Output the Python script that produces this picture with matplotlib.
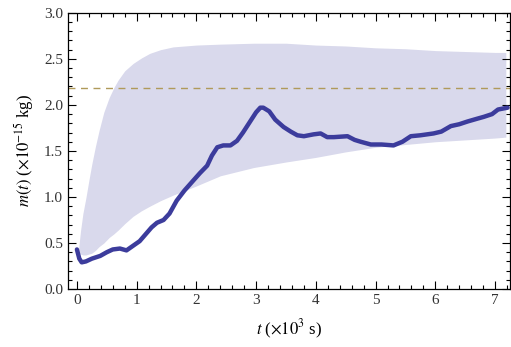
import numpy as np
import matplotlib
matplotlib.use("Agg")
import matplotlib.pyplot as plt
from matplotlib.ticker import MultipleLocator

plt.rcParams['font.family'] = ['Liberation Serif', 'DejaVu Serif']
plt.rcParams['mathtext.fontset'] = 'stix'

# measured mass curve (t in 10^3 s, m in 10^-15 kg)
t_meas = [0.0, 0.04, 0.08, 0.15, 0.25, 0.39, 0.5, 0.6, 0.72, 0.83, 0.94, 1.05,
          1.17, 1.25, 1.34, 1.45, 1.55, 1.67, 1.8, 1.95, 2.06, 2.18, 2.26,
          2.35, 2.45, 2.57, 2.68, 2.78, 2.9, 3.0, 3.07, 3.12, 3.22,
          3.32, 3.46, 3.58, 3.69, 3.8, 3.96, 4.08, 4.19, 4.3, 4.53, 4.65,
          4.75, 4.92, 5.1, 5.3, 5.45, 5.59, 5.75, 5.97, 6.1, 6.26, 6.4,
          6.54, 6.7, 6.81, 6.95, 7.05, 7.21]
m_meas = [0.43, 0.33, 0.29, 0.3, 0.33, 0.36, 0.4, 0.43, 0.44, 0.42, 0.47, 0.52,
          0.61, 0.67, 0.72, 0.75, 0.82, 0.96, 1.07, 1.18, 1.26, 1.34, 1.45,
          1.54, 1.56, 1.56, 1.61, 1.7, 1.82, 1.92, 1.97, 1.97, 1.93,
          1.84, 1.76, 1.71, 1.67, 1.66, 1.68, 1.69, 1.65, 1.65, 1.66, 1.62,
          1.6, 1.57, 1.57, 1.56, 1.6, 1.66, 1.67, 1.69, 1.71, 1.77, 1.79,
          1.82, 1.85, 1.87, 1.9, 1.95, 1.97]

# prediction band
t_band = [0.03, 0.06, 0.1, 0.15, 0.2, 0.25, 0.31, 0.37, 0.45, 0.54, 0.62, 0.69,
          0.8, 0.94, 1.08, 1.22, 1.4, 1.61, 2.0, 2.4, 2.96, 3.5, 4.0, 4.5,
          5.0, 5.5, 6.0, 6.5, 7.0, 7.18]
band_lo = [0.4, 0.38, 0.37, 0.37, 0.38, 0.39, 0.42, 0.46, 0.5, 0.56, 0.6, 0.64,
           0.71, 0.79, 0.85, 0.9, 0.96, 1.02, 1.12, 1.23, 1.32, 1.38, 1.43, 1.49,
           1.54, 1.57, 1.6, 1.62, 1.64, 1.65]
band_hi = [0.45, 0.63, 0.82, 0.99, 1.18, 1.36, 1.55, 1.72, 1.92, 2.08, 2.19, 2.27,
           2.37, 2.45, 2.51, 2.56, 2.6, 2.63, 2.65, 2.66, 2.67, 2.67, 2.65, 2.64,
           2.62, 2.61, 2.59, 2.58, 2.57, 2.57]

m_ref = 2.18

fig = plt.figure(figsize=(5.11, 3.47), dpi=100)
ax = fig.add_axes([0.133, 0.167, 0.865, 0.796])

ax.fill_between(t_band, band_lo, band_hi, color='#d9d9ec', lw=0)
ax.axhline(m_ref, color='#b09a5a', lw=1, ls=(0, (5, 4)))
ax.plot(t_meas, m_meas, color='#3c3c9c', lw=3.2, solid_capstyle='round')

ax.set_xlim(-0.15, 7.25)
ax.set_ylim(0, 3.0)
ax.xaxis.set_major_locator(MultipleLocator(1))
ax.xaxis.set_minor_locator(MultipleLocator(0.2))
ax.yaxis.set_major_locator(MultipleLocator(0.5))
ax.yaxis.set_minor_locator(MultipleLocator(0.1))
ax.yaxis.set_major_formatter(matplotlib.ticker.FormatStrFormatter('%.1f'))
ax.tick_params(which='both', direction='in', top=True, right=True,
               labelsize=11, labelcolor='#333333', width=0.8)
ax.tick_params(which='major', length=6)
ax.tick_params(which='minor', length=3)
for s in ax.spines.values():
    s.set_linewidth(0.9)

ax.set_xlabel(r'$t$ ($\times10^{3}$ s)', fontsize=12, labelpad=8)
ax.set_ylabel(r'$m(t)$ ($\times10^{-15}$ kg)', fontsize=12, labelpad=6)

fig.savefig('out.png', dpi=100)
